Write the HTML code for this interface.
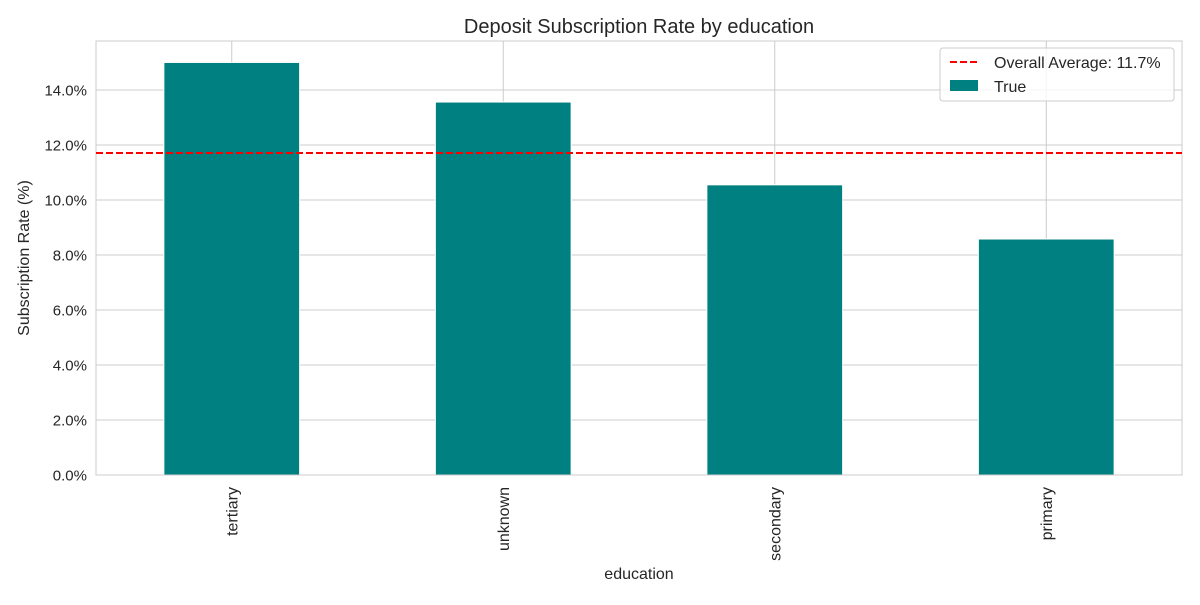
<!DOCTYPE html>
<html><head><meta charset="utf-8"><style>
html,body{margin:0;padding:0;background:#fff;}
svg text{font-family:"Liberation Sans","DejaVu Sans",sans-serif;fill:#262626;}
</style></head><body>
<svg width="1200" height="600" viewBox="0 0 1200 600">
<g id="grid"></g>
<g id="bars"></g>
<g id="axes"></g>
<text x="639" y="33" font-size="20" text-anchor="middle">Deposit Subscription Rate by education</text>
<text x="639" y="579" font-size="16" text-anchor="middle">education</text>
<text transform="translate(29,258) rotate(-90)" font-size="16" text-anchor="middle">Subscription Rate (%)</text>
<g>
<rect x="940" y="48" width="234" height="53" rx="3" fill="#fff" fill-opacity="0.8" stroke="#ccc"/>
<line x1="950" y1="62" x2="978" y2="62" stroke="#ff0000" stroke-width="2" stroke-dasharray="7,3"/>
<text x="994" y="68" font-size="16">Overall Average: 11.7%</text>
<rect x="950" y="80" width="28" height="11" fill="#008080"/>
<text x="994" y="92" font-size="16">True</text>
</g>
</svg>
<script>
const categories=["tertiary","unknown","secondary","primary"];
const rates=[15.0,13.56,10.55,8.58];
const overallAverage=11.71;
const yTicks=[0,2,4,6,8,10,12,14];
const L=96,R=1182,T=41,B=475,yMax=15.78;
const ns="http://www.w3.org/2000/svg";
function y(v){return B-(v/yMax)*(B-T);}
function x(i){return L+(i+0.5)*(R-L)/categories.length;}
function mk(tag,attrs,parent){const e=document.createElementNS(ns,tag);for(const k in attrs)e.setAttribute(k,attrs[k]);parent.appendChild(e);return e;}
const grid=document.getElementById('grid'),bars=document.getElementById('bars'),axes=document.getElementById('axes');
yTicks.forEach(t=>{
 const l=mk('line',{x1:L,x2:R,y1:y(t),y2:y(t),stroke:'#cccccc','stroke-width':1},grid);
 
 
 const tx=mk('text',{x:L-9,y:y(t)+5.5,'font-size':15,'text-anchor':'end'},axes);
 tx.textContent=t.toFixed(1)+'%';
 
 
});
const bw=(R-L)/categories.length*0.5;
categories.forEach((c,i)=>{
 const l=mk('line',{x1:x(i),x2:x(i),y1:T,y2:B,stroke:'#cccccc','stroke-width':1},grid);
 
 
 const r=mk('rect',{x:x(i)-bw/2,y:y(rates[i]),width:bw,height:B-y(rates[i]),fill:'#008080',stroke:'#fff','stroke-width':1},bars);
 
 
 const tx=mk('text',{transform:`translate(${x(i)+5.5},${B+12}) rotate(-90)`,'font-size':16,'text-anchor':'end'},axes);
 tx.textContent=c;
 
 
});
const fr=mk('rect',{x:L,y:T,width:R-L,height:B-T,fill:'none',stroke:'#cccccc'},axes);


const av=mk('line',{x1:L,x2:R,y1:y(overallAverage),y2:y(overallAverage),stroke:'#ff0000','stroke-width':2,'stroke-dasharray':'7,3'},axes);


</script>
</body></html>
